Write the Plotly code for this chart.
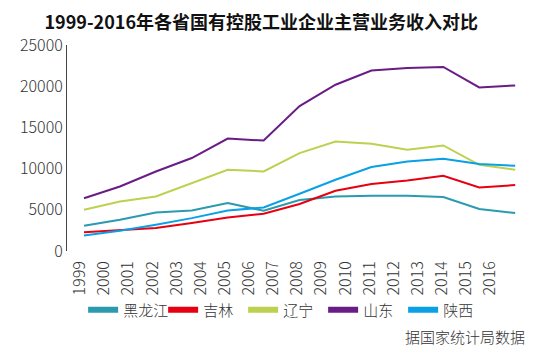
import plotly.graph_objects as go

# ---- data ----
years = [str(y) for y in range(1999, 2017)]          # axis tick labels
point_index = list(range(13))                         # positions of plotted points
series_names = ["黑龙江", "吉林", "辽宁", "山东", "陕西"]
heilongjiang = [3060, 3790, 4670, 4920, 5820, 4880, 6180, 6620, 6700, 6700, 6540, 5090, 4600]
jilin        = [2290, 2490, 2780, 3390, 4070, 4520, 5700, 7310, 8120, 8560, 9130, 7710, 8000]
liaoning     = [5000, 6010, 6620, 8240, 9860, 9650, 11880, 13290, 13010, 12290, 12810, 10460, 9860]
shandong     = [6400, 7830, 9650, 11280, 13640, 13400, 17580, 20180, 21910, 22200, 22330, 19850, 20090]
shaanxi      = [1880, 2450, 3180, 3990, 4920, 5280, 6950, 8640, 10190, 10870, 11190, 10550, 10340]
y_ticks = [0, 5000, 10000, 15000, 20000, 25000]
y_tick_text = ["0", "5000", "10000", "15000", "20000", "25000"]

colors = ["#2A9AAE", "#E60012", "#BDD14F", "#6A1C86", "#0AA0E6"]
values = [heilongjiang, jilin, liaoning, shandong, shaanxi]

FONT = "Noto Sans CJK SC"
TXT = dict(family=FONT, size=15, color="#333333", weight=300)
TICK = dict(family=FONT, size=16, color="#333333", weight=300)
fig = go.Figure()

for name, vals, col in zip(series_names, values, colors):
    fig.add_trace(go.Scatter(
        x=point_index, y=vals, mode="lines", name=name,
        line=dict(color=col, width=2), xaxis="x3", yaxis="y",
        showlegend=False, legendgroup=name, hoverinfo="skip"))
# legend entries (colour blocks)
for name, col in zip(series_names, colors):
    fig.add_trace(go.Scatter(
        x=[None], y=[None], mode="lines", name=name,
        line=dict(color=col, width=6), xaxis="x3", yaxis="y",
        showlegend=True, legendgroup=name))

axis_col = "#444444"
n_years = len(years)
fig.update_layout(
    width=550, height=351,
    margin=dict(l=67, r=22, t=45, b=100, autoexpand=False),
    paper_bgcolor="white", plot_bgcolor="white",
    font=TXT,
    title=dict(text="<b>1999-2016年各省国有控股工业企业主营业务收入对比</b>",
               x=0.475, xanchor="center", y=0.935, yanchor="middle",
               font=dict(family=FONT, size=18, color="#111111")),
    yaxis=dict(range=[0, 25000], tickvals=y_ticks, ticktext=y_tick_text,
               showgrid=False, zeroline=False,
               showline=True, linecolor=axis_col, linewidth=1,
               ticks="inside", ticklen=11, tickcolor=axis_col, tickfont=TICK),
    # tick marks between the year labels
    xaxis=dict(range=[0, n_years], tickvals=list(range(1, n_years + 1)),
               showticklabels=False, showgrid=False, zeroline=False,
               showline=True, linecolor=axis_col, linewidth=1,
               ticks="inside", ticklen=4, tickcolor=axis_col, anchor="y"),
    # year labels
    xaxis2=dict(overlaying="x", anchor="y", side="bottom",
                range=[-0.539, 18.57], tickvals=list(range(n_years)), ticktext=years,
                tickangle=-90, showgrid=False, zeroline=False, showline=False,
                ticks="", ticklabelstandoff=6, tickfont=TICK),
    # data positions
    xaxis3=dict(overlaying="x", anchor="y", range=[-0.473, 12.357],
                visible=False, showgrid=False, zeroline=False),
    legend=dict(orientation="h", x=0.035, xanchor="left", y=-0.286, yanchor="middle",
                entrywidth=35, entrywidthmode="pixels", tracegroupgap=0,
                font=TXT, bgcolor="rgba(0,0,0,0)",
                itemclick=False, itemdoubleclick=False),
    annotations=[dict(text="据国家统计局数据", xref="paper", yref="paper",
                      x=0.998, xanchor="right", y=-0.417, yanchor="middle",
                      showarrow=False, font=TXT)],
)
# dummy trace so xaxis2 is drawn
fig.add_trace(go.Scatter(x=[None], y=[None], xaxis="x2", yaxis="y", showlegend=False))

fig.write_html("out.html")
